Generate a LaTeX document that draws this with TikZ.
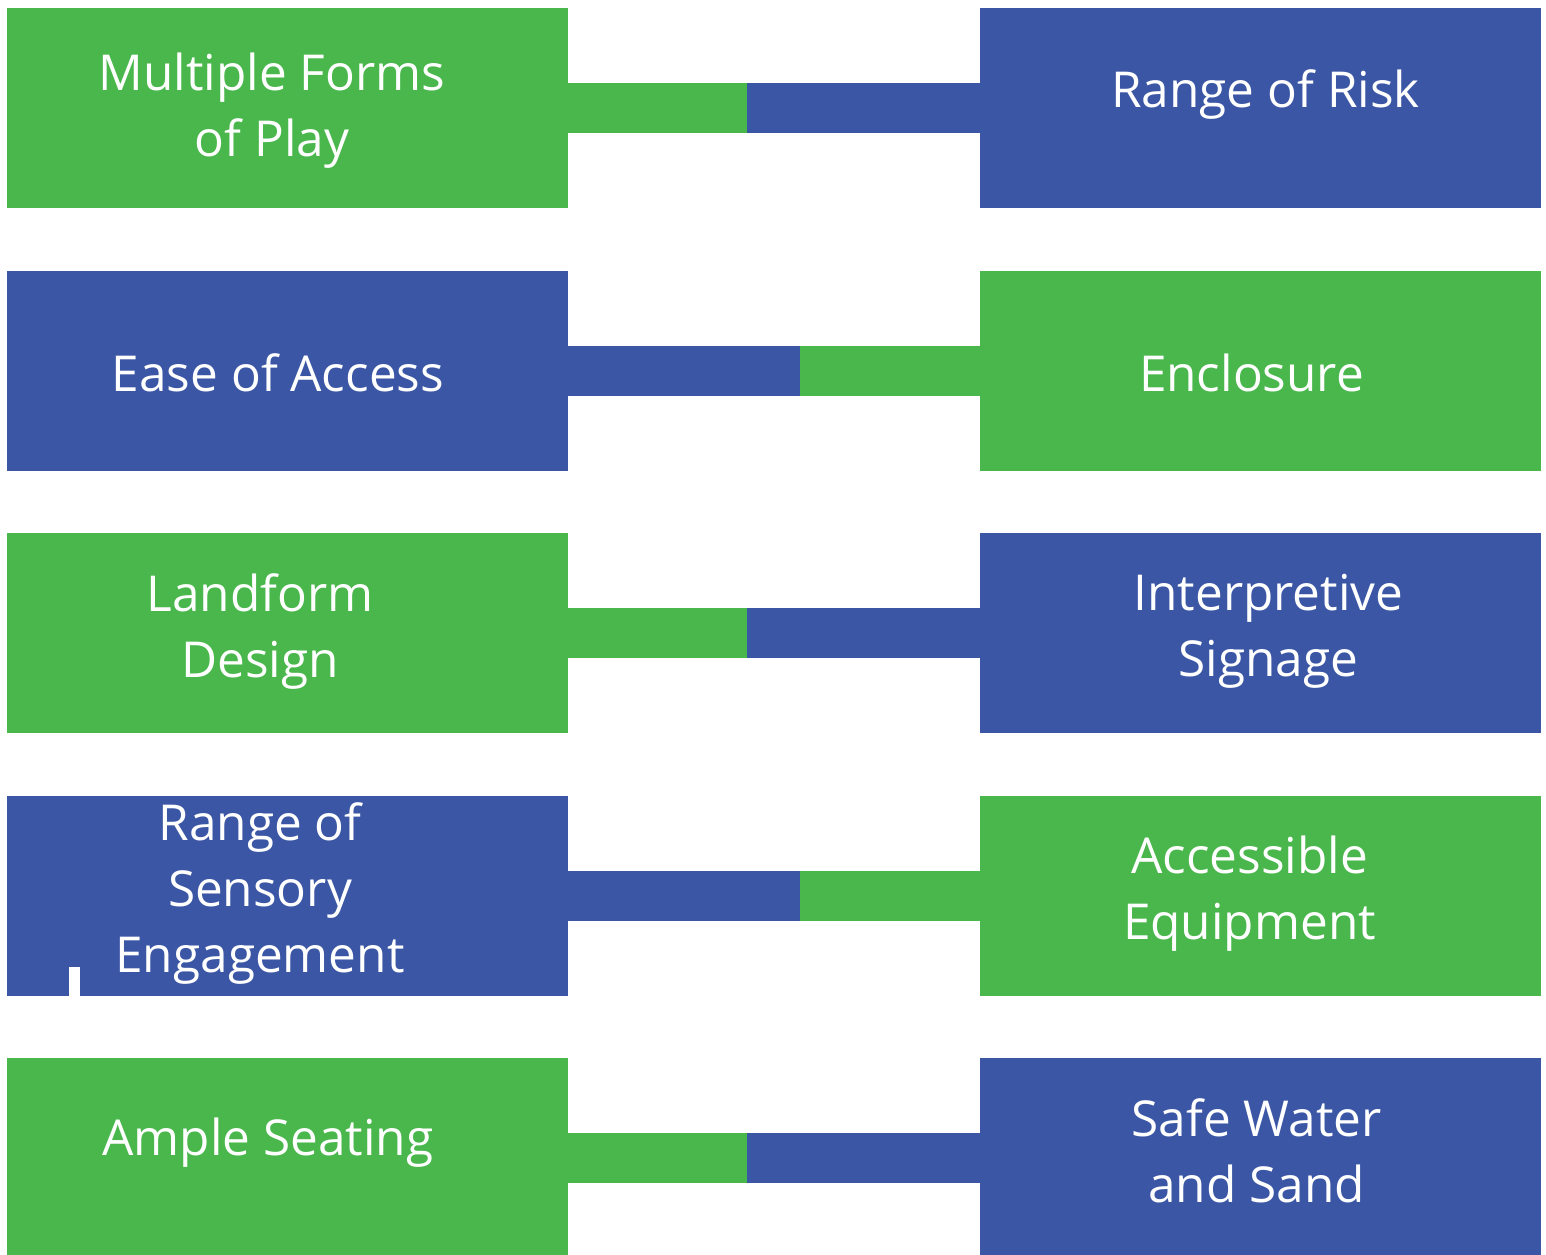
\documentclass[tikz,border=0pt]{standalone}
\usepackage{fontspec}
\setmainfont{Open Sans}
\usetikzlibrary{positioning}
\definecolor{leafgreen}{RGB}{73,183,76}
\definecolor{royalblue}{RGB}{59,86,165}

\begin{document}
\begin{tikzpicture}[x=1pt,y=-1pt,node distance=62.5pt and 412.5pt]
\tikzstyle{every node}=[inner sep=0pt,outer sep=0pt]
\tikzstyle{box}=[minimum width=561pt,minimum height=200pt]
\tikzstyle{gbox}=[box,fill=leafgreen]
\tikzstyle{bbox}=[box,fill=royalblue]
\tikzstyle{txt}=[text=white,align=center,font=\fontsize{49.5}{66}\selectfont]

\useasboundingbox (0,0) rectangle (1546,1254);
\clip (0,0) rectangle (1546,1254);

% boxes
\node[gbox] (L1) at (287,108) {};
\node[bbox,below=of L1] (L2) {};
\node[gbox,below=of L2] (L3) {};
\node[bbox,below=of L3] (L4) {};
\node[gbox,below=of L4] (L5) {};
\node[bbox,right=of L1] (R1) {};
\node[gbox,right=of L2] (R2) {};
\node[bbox,right=of L3] (R3) {};
\node[gbox,right=of L4] (R4) {};
\node[bbox,right=of L5] (R5) {};

% joints
\coordinate (M1) at (747,0 |- L1.east);
\coordinate (M2) at (800,0 |- L2.east);
\coordinate (M3) at (747,0 |- L3.east);
\coordinate (M4) at (800,0 |- L4.east);
\coordinate (M5) at (747,0 |- L5.east);

\foreach \i/\a/\b in {1/leafgreen/royalblue,2/royalblue/leafgreen,3/leafgreen/royalblue,4/royalblue/leafgreen,5/leafgreen/royalblue}{
  \fill[\a] ([yshift=25pt]L\i.east) rectangle ([yshift=-25pt]M\i);
  \fill[\b] ([yshift=25pt]M\i) rectangle ([yshift=-25pt]R\i.west);
}

% texts
\node[txt] (t1) at ([xshift=-15pt,yshift=-3pt]L1.center) {Multiple Forms\\of Play};
\node[txt] (t2) at ([xshift=-9pt,yshift=-2pt]L2.center) {Ease of Access};
\node[txt] (t3) at ([xshift=-27pt,yshift=2pt]L3.center) {Landform\\Design};
\node[txt] (t4) at ([xshift=-27pt,yshift=2pt]L4.center) {Range of\\Sensory\\Engagement};
\node[txt] (t5) at ([xshift=-19pt,yshift=15pt]L5.center) {Ample Seating};
\node[txt] (u1) at ([xshift=5pt,yshift=13pt]R1.center) {Range of Risk};
\node[txt] (u2) at ([xshift=-9pt,yshift=-2pt]R2.center) {Enclosure};
\node[txt] (u3) at ([xshift=8pt,yshift=2pt]R3.center) {Interpretive\\Signage};
\node[txt] (u4) at ([xshift=-11pt,yshift=2pt]R4.center) {Accessible\\Equipment};
\node[txt] (u5) at ([xshift=-4pt,yshift=7pt]R5.center) {Safe Water\\and Sand};

% stray mark
\node[fill=white,minimum width=11pt,minimum height=51pt] (mark) at (74.5,992.5) {};
\end{tikzpicture}
\end{document}
